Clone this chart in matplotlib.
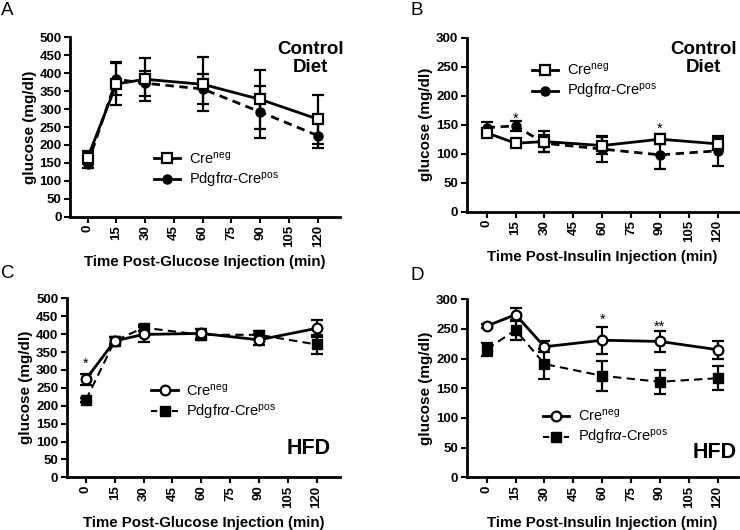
import numpy as np
import matplotlib.pyplot as plt
from matplotlib.lines import Line2D

plt.rcParams['font.family'] = ['Liberation Sans', 'DejaVu Sans']
plt.rcParams['mathtext.fontset'] = 'custom'
plt.rcParams['mathtext.rm'] = 'Liberation Sans'
plt.rcParams['mathtext.it'] = 'Liberation Sans:italic'

# time points (min)
time = [0, 15, 30, 60, 90, 120]
x_ticks = [0, 15, 30, 45, 60, 75, 90, 105, 120]

# A - GTT, control diet
gtt_ctrl_neg = [164, 370, 383, 369, 327, 272]
gtt_ctrl_neg_err = [18, 60, 60, 75, 82, 68]
gtt_ctrl_pos = [147, 383, 372, 356, 292, 226]
gtt_ctrl_pos_err = [12, 45, 35, 43, 72, 35]

# B - ITT, control diet
itt_ctrl_neg = [136, 118, 121, 114, 125, 117]
itt_ctrl_neg_err = [6, 5, 18, 15, 9, 10]
itt_ctrl_pos = [145, 148, 118, 108, 98, 105]
itt_ctrl_pos_err = [9, 8, 15, 22, 25, 26]

# C - GTT, HFD
gtt_hfd_neg = [274, 381, 399, 402, 384, 416]
gtt_hfd_neg_err = [15, 12, 20, 12, 15, 24]
gtt_hfd_pos = [216, 381, 418, 398, 398, 371]
gtt_hfd_pos_err = [6, 10, 8, 15, 12, 26]

# D - ITT, HFD
itt_hfd_neg = [255, 274, 220, 231, 229, 215]
itt_hfd_neg_err = [3, 11, 9, 23, 18, 15]
itt_hfd_pos = [216, 248, 191, 171, 161, 167]
itt_hfd_pos_err = [11, 17, 25, 25, 20, 20]

# significance marks: (x, y, text)
stars_b = [(15, 160, '*'), (90, 143, '*')]
stars_c = [(0, 318, '*')]
stars_d = [(60, 266, '*'), (90, 253, '**')]

lab_neg = r'Cre$^{\mathrm{neg}}$'
lab_pos = r'Pdgfr$\alpha$-Cre$^{\mathrm{pos}}$'

W, H = 740, 530
fig = plt.figure(figsize=(W / 100, H / 100), dpi=100)


def add_ax(l, r, t, b):
    return fig.add_axes([l / W, 1 - b / H, (r - l) / W, (b - t) / H])


def panel(ax, neg, neg_err, pos, pos_err, neg_marker, pos_marker, pos_lw,
          ymax, xlim, xlabel, stars, legend_loc, tag, tag_xy):
    ax.errorbar(time, neg, yerr=neg_err, color='black', lw=2, ls='-',
                marker=neg_marker, ms=7, mfc='white', mec='black', mew=1.6,
                capsize=4, elinewidth=1.6, capthick=1.6, zorder=3)
    ax.errorbar(time, pos, yerr=pos_err, color='black', lw=pos_lw,
                ls='--', dashes=(4, 2.5) if pos_lw < 2 else (3, 2),
                marker=pos_marker, ms=6.5, mfc='black', mec='black',
                capsize=4, elinewidth=1.6, capthick=1.6, zorder=2)
    for sx, sy, st in stars:
        ax.text(sx, sy, st, ha='center', va='center', fontsize=10.5)
    ax.set_xlim(*xlim)
    ax.set_ylim(0, ymax)
    ax.set_xticks(x_ticks)
    ax.set_xticklabels([str(t) for t in x_ticks], rotation=90,
                       fontweight='bold', fontsize=9.5)
    ax.set_yticks(np.arange(0, ymax + 1, 50))
    ax.set_yticklabels([str(v) for v in np.arange(0, ymax + 1, 50)],
                       fontweight='bold', fontsize=9.5)
    ax.tick_params(direction='out', length=4, width=1.5, pad=2)
    for s in ['top', 'right']:
        ax.spines[s].set_visible(False)
    for s in ['left', 'bottom']:
        ax.spines[s].set_linewidth(2)
    ax.set_xlabel(xlabel, fontweight='bold', fontsize=10.8, labelpad=6)
    ax.set_ylabel('glucose (mg/dl)', fontweight='bold', fontsize=11, labelpad=2)

    h_neg = Line2D([], [], color='black', lw=2, marker=neg_marker, ms=7,
                   mfc='white', mec='black', mew=1.6)
    if pos_lw < 2:
        h_pos = Line2D([], [], color='black', lw=1.5, ls='--', dashes=(3, 2),
                       marker=pos_marker, ms=6.5)
    else:
        h_pos = Line2D([], [], color='black', lw=2, marker=pos_marker, ms=6.5)
    ax.legend([h_neg, h_pos], [lab_neg, lab_pos], loc='upper left',
              bbox_to_anchor=legend_loc, frameon=False, fontsize=10.5,
              handlelength=1.8, handletextpad=0.6, labelspacing=0.3,
              borderpad=0, borderaxespad=0)
    fig.text(tag_xy[0] / W, 1 - tag_xy[1] / H, tag, fontsize=13.5,
             ha='left', va='top')


# A
axA = add_ax(70, 340, 37.3, 216.7)
panel(axA, gtt_ctrl_neg, gtt_ctrl_neg_err, gtt_ctrl_pos, gtt_ctrl_pos_err,
      's', 'o', 2, 500, (-9.2, 131.6),
      'Time Post-Glucose Injection (min)', [], (0.31, 0.37), 'A', (1, 2))
axA.text(0.89, 0.98, 'Control\nDiet', transform=axA.transAxes, ha='center',
         va='top', fontsize=13.5, fontweight='bold', linespacing=1.05)

# B
axB = add_ax(466.7, 738, 37.7, 211.7)
panel(axB, itt_ctrl_neg, itt_ctrl_neg_err, itt_ctrl_pos, itt_ctrl_pos_err,
      's', 'o', 2, 300, (-10.4, 130.6),
      'Time Post-Insulin Injection (min)', stars_b, (0.24, 0.86), 'B', (411, 2))
axB.text(0.872, 0.98, 'Control\nDiet', transform=axB.transAxes, ha='center',
         va='top', fontsize=13.5, fontweight='bold', linespacing=1.05)

# C
axC = add_ax(66.7, 340, 298.3, 477.3)
panel(axC, gtt_hfd_neg, gtt_hfd_neg_err, gtt_hfd_pos, gtt_hfd_pos_err,
      'o', 's', 1.5, 500, (-10.0, 132.2),
      'Time Post-Glucose Injection (min)', stars_c, (0.31, 0.53), 'C', (1, 265))
axC.text(0.965, 0.1, 'HFD', transform=axC.transAxes, ha='right',
         va='bottom', fontsize=15.5, fontweight='bold')

# D
axD = add_ax(466.7, 738, 299.3, 477.3)
panel(axD, itt_hfd_neg, itt_hfd_neg_err, itt_hfd_pos, itt_hfd_pos_err,
      'o', 's', 1.5, 300, (-10.4, 130.6),
      'Time Post-Insulin Injection (min)', stars_d, (0.28, 0.39), 'D', (411, 267))
axD.text(0.995, 0.08, 'HFD', transform=axD.transAxes, ha='right',
         va='bottom', fontsize=15.5, fontweight='bold')

fig.savefig('out.png', dpi=100)
